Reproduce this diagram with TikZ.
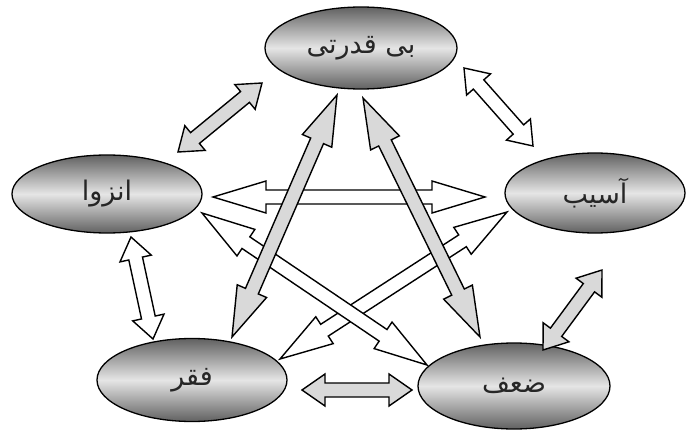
\documentclass[tikz,border=0pt]{standalone}
\usepackage{fontspec}
\newfontfamily\arabicfont[Script=Arabic]{DejaVu Sans}
\TeXXeTstate=1
\usetikzlibrary{shapes.geometric,calc}
\definecolor{arrgray}{HTML}{D9D9D9}
\tikzset{
  bubble/.style={ellipse, draw=black, line width=1.3pt,
    top color=black!62, bottom color=black!62, middle color=black!10,
    inner sep=0pt, text=black!85},
  blockline/.style={draw=black, line width=1.4pt, line join=miter},
}
\newcommand{\lbl}[1]{\raisebox{-5pt}{\arabicfont\fontsize{27}{30}\selectfont\beginR #1\endR}}
\newcommand{\blockarr}[4]{% #1 head length, #2 from, #3 to, #4 fill
  \path[blockline, fill=#4] (#2)
    -- ($(#2)!#1!(#3)!16pt!90:(#3)$)
    -- ($(#2)!#1!(#3)!7pt!90:(#3)$)
    -- ($(#3)!#1!(#2)!7pt!90:(#3)$)
    -- ($(#3)!#1!(#2)!16pt!90:(#3)$)
    -- (#3)
    -- ($(#3)!#1!(#2)!16pt!-90:(#3)$)
    -- ($(#3)!#1!(#2)!7pt!-90:(#3)$)
    -- ($(#2)!#1!(#3)!7pt!-90:(#3)$)
    -- ($(#2)!#1!(#3)!16pt!-90:(#3)$)
    -- cycle;
}
\begin{document}
\begin{tikzpicture}[x=1pt,y=-1pt]
\useasboundingbox (0,0) rectangle (686,433);
% nodes
\node[bubble, minimum width=192pt, minimum height=82pt] (bq) at (361,48) {\lbl{بی قدرتی}};
\node[bubble, minimum width=190pt, minimum height=78pt] (en) at (107,194) {\lbl{انزوا}};
\node[bubble, minimum width=180pt, minimum height=80pt] (as) at (595,193) {\lbl{آسیب}};
\node[bubble, minimum width=190pt, minimum height=83pt] (fq) at (192,380) {\lbl{فقر}};
\node[bubble, minimum width=192pt, minimum height=86pt] (zf) at (514,386) {\lbl{ضعف}};
% arrow tips
\coordinate (a1s) at (262,83);  \coordinate (a1e) at (178,152);
\coordinate (a2s) at (464,68);  \coordinate (a2e) at (533,146);
\coordinate (a3s) at (131,237); \coordinate (a3e) at (153,339);
\coordinate (a4s) at (302,390); \coordinate (a4e) at (412,390);
\coordinate (a5s) at (602,270); \coordinate (a5e) at (543,350);
\coordinate (a6s) at (337,95);  \coordinate (a6e) at (232,337);
\coordinate (a7s) at (363,98);  \coordinate (a7e) at (480,337);
\coordinate (a8s) at (213,197); \coordinate (a8e) at (485,197);
\coordinate (a9s) at (202,213); \coordinate (a9e) at (427,365);
\coordinate (a10s) at (507,212); \coordinate (a10e) at (280,359);
% white arrows
\blockarr{22pt}{a2s}{a2e}{white}
\blockarr{22pt}{a3s}{a3e}{white}
\blockarr{53pt}{a8s}{a8e}{white}
\blockarr{53pt}{a10s}{a10e}{white}
\blockarr{53pt}{a9s}{a9e}{white}
% gray arrows
\blockarr{22pt}{a1s}{a1e}{arrgray}
\blockarr{23pt}{a4s}{a4e}{arrgray}
\blockarr{22pt}{a5s}{a5e}{arrgray}
\blockarr{50pt}{a6s}{a6e}{arrgray}
\blockarr{50pt}{a7s}{a7e}{arrgray}
\end{tikzpicture}
\end{document}
